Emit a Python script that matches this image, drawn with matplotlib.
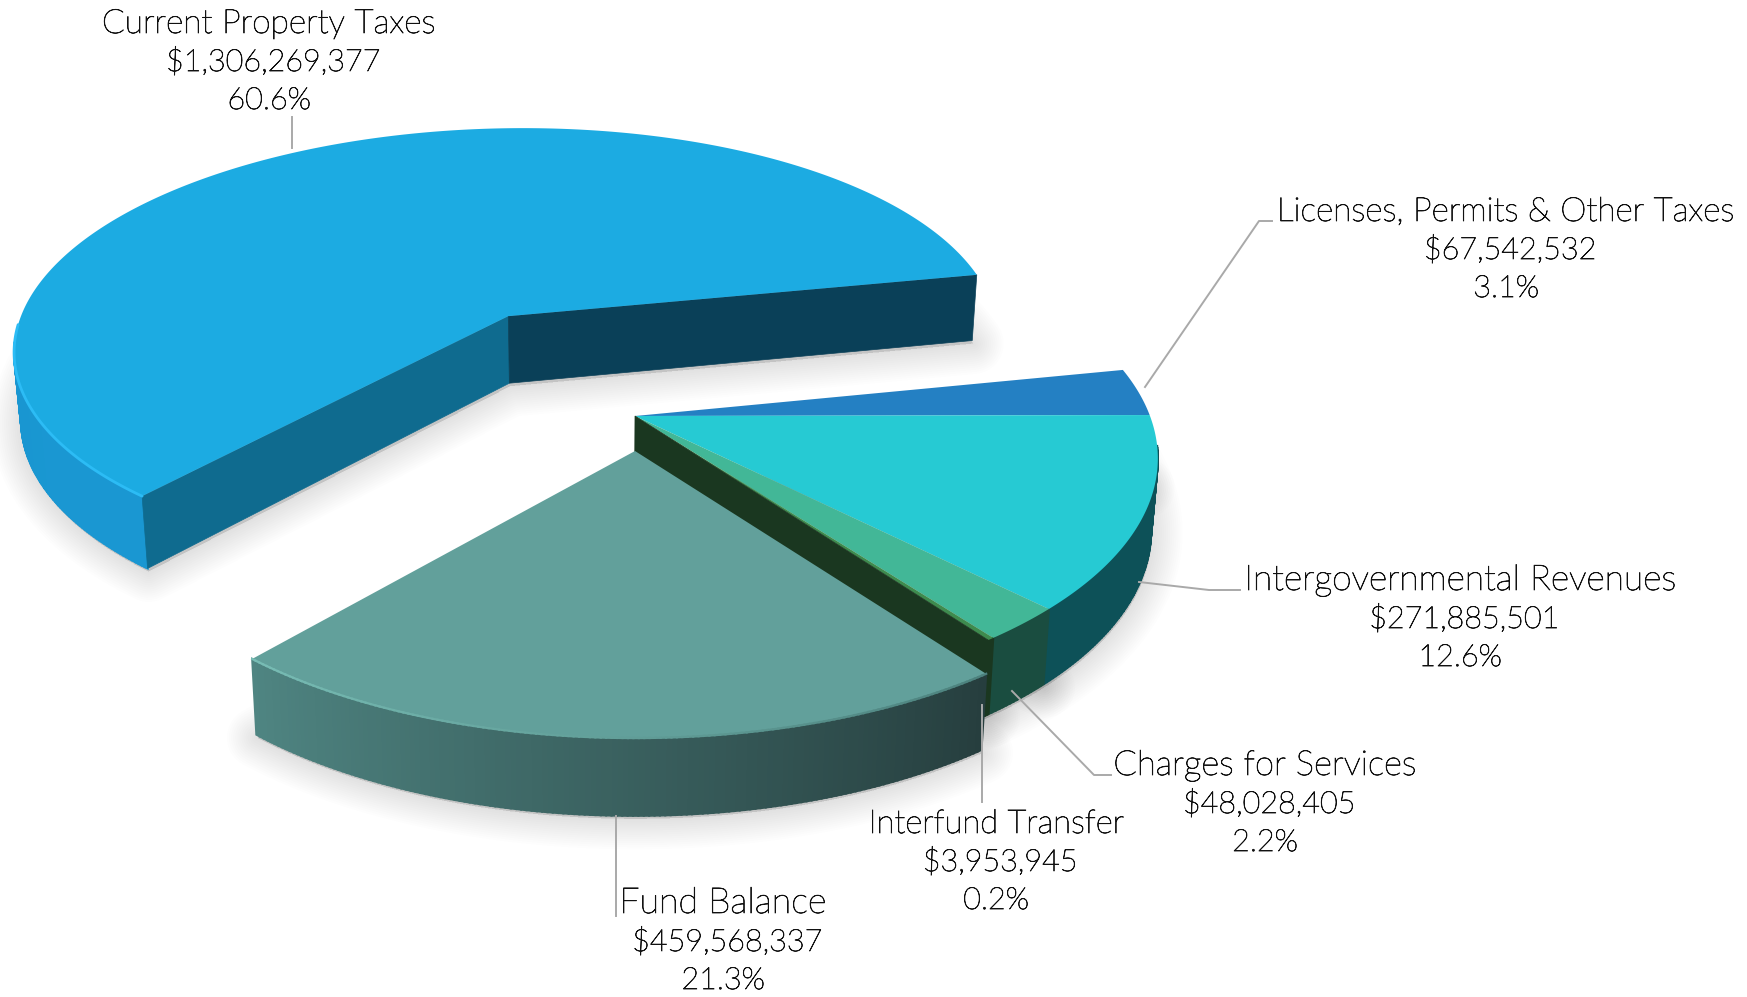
import numpy as np
import matplotlib
matplotlib.use("Agg")
import matplotlib.pyplot as plt
import matplotlib.patheffects as pe
from matplotlib.colors import to_rgb

names = ["Licenses, Permits & Other Taxes", "Intergovernmental Revenues", "Charges for Services",
         "Interfund Transfer", "Fund Balance", "Current Property Taxes"]
values = [67542532, 271885501, 48028405, 3953945, 459568337, 1306269377]
top_colors = ["#2480c3", "#26cad3", "#42b797", "#3e8b4e", "#62a09b", "#1cabe2"]
side_start = ["#0d4f5c", "#0d5158", "#1a4d40", "#1a3720", "#263e3e", "#1a97d2"]
side_end = ["#0d5158", "#0d5158", "#1a4d40", "#1a3720", "#4f8582", "#1593cd"]
explode = [0, 0, 0, 0, 0, 0.515]
radius = [1, 1, 1, 1, 0.995, 1.005]
drop = [0, 0, 0, 0, 35, 0]
persp = [0.1725, 0.1725, 0.1725, 0.1725, 0.1725, 0.14]
label_xy = [(1506, 221), (1460, 590), (1265, 775), (996, 833), (723, 913), (269, 33)]
name_sizes = [24, 25.5, 24.9, 23.7, 25.8, 24.1]
leaders = [[(1145, 387), (1259, 221), (1272, 221)],
           [(1139, 582), (1209, 590), (1240, 590)],
           [(1012, 691), (1094, 775), (1111, 775)],
           [(982, 705), (982, 802)],
           [(616, 816), (616, 916)],
           [(292, 117), (292, 148)]]

# perspective of the pie plane
OX, OY = 635, 416
R, Q = 515, 239
PHI0 = 11.5
DEPTH = 70
LEAN = 0.012

total = sum(values)
cum = np.cumsum([0] + values) / total


def project(i, u, v):
    w = 1 + persp[i] * v
    return OX + R * u / w, OY - Q * v / w + drop[i]


def project_low(i, u, v):
    x, y = project(i, u, v)
    return x + (600 - x) * LEAN, y + DEPTH / (1 + 0.1 * v)


def mix(c1, c2, t):
    a, b = np.array(to_rgb(c1)), np.array(to_rgb(c2))
    return tuple(a + (b - a) * t)


def wedge_parts(i):
    a0 = PHI0 - 360 * cum[i]
    a1 = PHI0 - 360 * cum[i + 1]
    mid = np.radians((a0 + a1) / 2)
    cx, cy = explode[i] * np.cos(mid), explode[i] * np.sin(mid)
    phi = np.radians(np.linspace(a0, a1, max(int(abs(a1 - a0)), 2) * 2 + 1))
    return cx, cy, cx + radius[i] * np.cos(phi), cy + radius[i] * np.sin(phi)


def draw_shadow(i):
    cx, cy, u, v = wedge_parts(i)
    xs, ys = project_low(i, np.r_[cx, u], np.r_[cy, v])
    for lw in range(2, 46, 3):
        ax.fill(xs + 1, ys + 3, color="k", alpha=0.006, lw=lw, zorder=1, joinstyle="round")


def draw_wedge(i, z):
    cx, cy, u, v = wedge_parts(i)
    for j in range(len(u) - 1):
        # the back of the rim is hidden by the top
        if v[j] - cy >= -0.12 and v[j + 1] - cy >= -0.12:
            continue
        x0, y0 = project(i, u[j:j + 2], v[j:j + 2])
        x1, y1 = project_low(i, u[j:j + 2], v[j:j + 2])
        c = mix(side_start[i], side_end[i], j / (len(u) - 1))
        ax.fill(np.r_[x0, x1[::-1]], np.r_[y0, y1[::-1]], color=c, lw=1.5, zorder=z)
    x, y = project(i, np.r_[cx, u], np.r_[cy, v])
    ax.fill(x, y, color=top_colors[i], lw=0, zorder=z + 2)


def draw_cut(i, end, color, z):
    cx, cy, u, v = wedge_parts(i)
    x0, y0 = project(i, np.array([cx, u[end]]), np.array([cy, v[end]]))
    x1, y1 = project_low(i, np.array([cx, u[end]]), np.array([cy, v[end]]))
    ax.fill(np.r_[x0, x1[::-1]], np.r_[y0, y1[::-1]], color=color, lw=0.5, zorder=z)


fig = plt.figure(figsize=(17.47, 9.97), dpi=100)
ax = fig.add_axes([0, 0, 1, 1])
ax.set_xlim(0, 1747)
ax.set_ylim(997, 0)
ax.axis("off")

draw_shadow(5)
draw_shadow(4)
for i in range(4):
    draw_shadow(i)

# current property taxes at the back
draw_wedge(5, 4)
draw_cut(5, 0, "#0f6b8f", 5)
draw_cut(5, -1, "#0a4058", 5)

# upper group
for i in range(4):
    draw_wedge(i, 8)
draw_cut(3, -1, "#1a3720", 11)

# fund balance in front
draw_wedge(4, 14)

# bevel highlight on the arcs
cx, cy, u, v = wedge_parts(5)
x, y = project(5, u, v)
stop = int(len(x) * 0.22)
ax.plot(x[:stop], y[:stop], color="#2cbcf5", lw=2, zorder=7, solid_capstyle="round")
cx, cy, u, v = wedge_parts(4)
x, y = project(4, u, v)
n = len(x)
for j in range(n - 1):
    t = j / (n - 1)
    ax.plot(x[j:j + 2], y[j:j + 2], color=mix("#4c817d", "#78bdb5", t), lw=1.6, zorder=17)

for pts in leaders:
    ax.plot([p[0] for p in pts], [p[1] for p in pts], color="#a9a9a9", lw=1.4, zorder=20)

thicken = [pe.withStroke(linewidth=0.55, foreground="#111111")]
for i, name in enumerate(names):
    lx, ly = label_xy[i]
    ax.text(lx, ly, name, ha="center", va="baseline", family="Lato", fontweight="light",
            fontsize=name_sizes[i], color="#111111", zorder=21, path_effects=thicken)
    ax.text(lx + 4, ly + 38, f"${values[i]:,}", ha="center", va="baseline", family="Lato", fontweight="light",
            fontsize=22, color="#111111", zorder=21, path_effects=thicken)
    ax.text(lx, ly + 76, f"{values[i] / total * 100:.1f}%", ha="center", va="baseline", family="Lato", fontweight="light",
            fontsize=22, color="#111111", zorder=21, path_effects=thicken)

fig.savefig("out.png", dpi=100)
